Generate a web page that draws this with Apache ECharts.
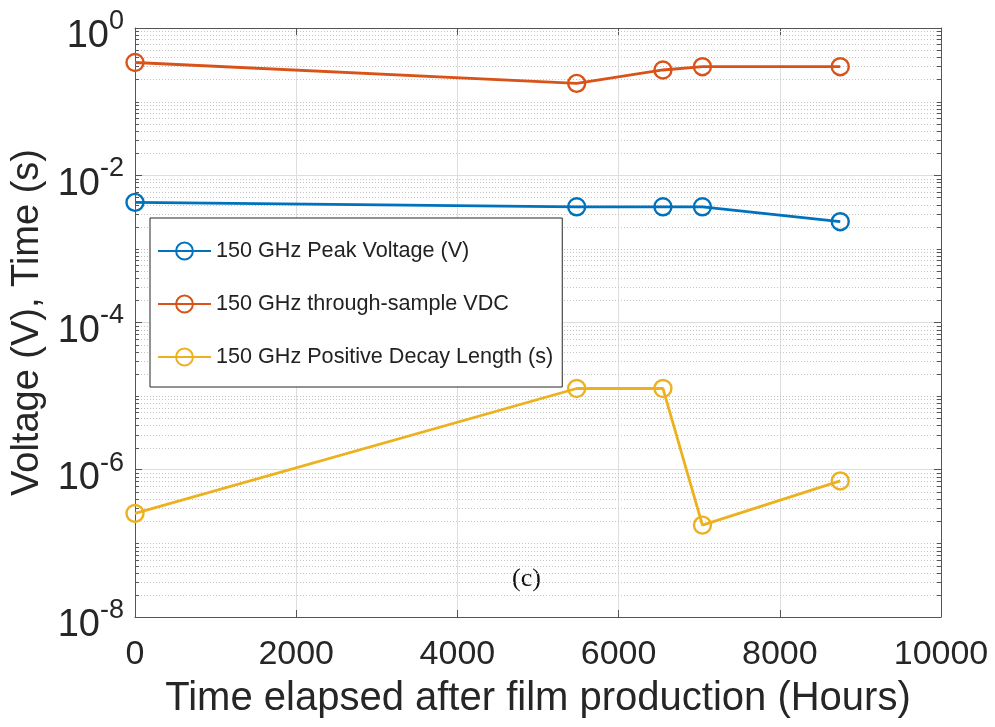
<!DOCTYPE html>
<html>
<head>
<meta charset="utf-8">
<script src="https://cdn.jsdelivr.net/npm/echarts@6/dist/echarts.min.js"></script>
<style>
html,body{margin:0;padding:0;background:#fff;}
#chart{width:995px;height:727px;}
</style>
</head>
<body>
<div id="chart"></div>
<script>
// ---- data ----
const hours = [0, 5480, 6550, 7040, 8750];
const peakVoltage = [0.00428, 0.00373, 0.00373, 0.00373, 0.00234];
const throughSampleVDC = [0.34, 0.177, 0.269, 0.298, 0.298];
const decayLength = [2.55e-7, 1.27e-5, 1.27e-5, 1.77e-7, 7.05e-7];
const seriesNames = ['150 GHz Peak Voltage (V)', '150 GHz through-sample VDC', '150 GHz Positive Decay Length (s)'];
const xTickValues = [0, 2000, 4000, 6000, 8000, 10000];
const yDecades = [-8, -7, -6, -5, -4, -3, -2, -1, 0];

// minor grid positions (2..9 x 10^k, plus odd decades)
const minorGrid = [];
for (let k = -8; k < 0; k++) {
  if (k % 2 !== 0) minorGrid.push(Math.pow(10, k));
  for (let m = 2; m <= 9; m++) minorGrid.push(m * Math.pow(10, k));
}

const colors = ['#0072BD', '#D95319', '#EDB120'];
const frame = '#555555';
const font = 'Liberation Sans, Arial, Helvetica, sans-serif';

function mkSeries(name, vals, color) {
  return {
    name: name,
    type: 'line',
    data: hours.map((h, i) => [h, vals[i]]),
    symbol: 'circle',
    symbolSize: 17,
    clip: false,
    z: 5,
    lineStyle: { color: color, width: 2.8 },
    itemStyle: { color: 'rgba(255,255,255,0)', borderColor: color, borderWidth: 2.4 },
    emphasis: { disabled: true }
  };
}

const chart = echarts.init(document.getElementById('chart'));
const option = {
  backgroundColor: '#ffffff',
  animation: false,
  grid: { left: 135, top: 28, width: 806, height: 589, containLabel: false, outerBoundsMode: 'none' },
  legend: {
    data: seriesNames,
    orient: 'vertical',
    left: 150,
    top: 218,
    padding: [22, 9, 19, 7],
    itemWidth: 53,
    itemHeight: 21,
    itemGap: 31,
    backgroundColor: '#ffffff',
    borderColor: '#262626',
    borderWidth: 1,
    textStyle: { fontFamily: font, fontSize: 21.6, color: '#222' },
    selectedMode: false
  },
  xAxis: [{
    type: 'value', min: 0, max: 10000, interval: 2000, position: 'bottom',
    axisLine: { show: true, onZero: false, lineStyle: { color: frame, width: 1 } },
    axisTick: { show: true, inside: true, length: 7, lineStyle: { color: frame } },
    axisLabel: { fontFamily: font, fontSize: 34, color: '#262626', margin: 21, formatter: function (v) { return String(v); } },
    splitLine: { show: true, lineStyle: { color: '#dedede', width: 1 } },
    name: 'Time elapsed after film production (Hours)',
    nameLocation: 'middle', nameGap: 62,
    nameTextStyle: { fontFamily: font, fontSize: 40, color: '#262626' }
  }, {
    type: 'value', min: 0, max: 10000, interval: 2000, position: 'top',
    axisLine: { show: true, onZero: false, lineStyle: { color: frame, width: 1 } },
    axisTick: { show: true, inside: true, length: 7, lineStyle: { color: frame } },
    axisLabel: { show: false }, splitLine: { show: false }
  }],
  yAxis: [{
    type: 'log', logBase: 10, min: 1e-8, max: 1, interval: 2, position: 'left',
    axisLine: { show: true, onZero: false, lineStyle: { color: frame, width: 1 } },
    axisTick: { show: true, inside: true, length: 7, lineStyle: { color: frame } },
    splitLine: { show: true, lineStyle: { color: '#dedede', width: 1 } },
    axisLabel: {
      margin: 11,
      verticalAlign: 'middle',
      padding: [18, 0, 0, 0],
      formatter: function (v) {
        const e = Math.round(Math.log10(v));
        return '{b|10}{e|' + e + '}';
      },
      rich: {
        b: { fontFamily: font, fontSize: 38, color: '#262626', lineHeight: 38, verticalAlign: 'bottom' },
        e: { fontFamily: font, fontSize: 27, color: '#262626', lineHeight: 27, verticalAlign: 'bottom', padding: [0, 0, 21, 0] }
      }
    },
    name: 'Voltage (V), Time (s)',
    nameLocation: 'middle', nameGap: 83,
    nameTextStyle: { fontFamily: font, fontSize: 38, color: '#262626' }
  }, {
    type: 'log', logBase: 10, min: 1e-8, max: 1, interval: 2, position: 'right',
    axisLine: { show: true, onZero: false, lineStyle: { color: frame, width: 1 } },
    axisTick: { show: true, inside: true, length: 7, lineStyle: { color: frame } },
    axisLabel: { show: false }, splitLine: { show: false }
  }],
  graphic: [{
    type: 'text', left: 512, top: 566,
    style: { text: '(c)', font: '26px "Liberation Serif", "Times New Roman", serif', fill: '#111' }
  }],
  series: [
    {
      name: 'minorGrid',
      type: 'custom',
      silent: true,
      z: 1,
      data: minorGrid.map(v => [0, v]),
      renderItem: function (params, api) {
        const v = api.value(1);
        const p = api.coord([0, v]);
        const x0 = params.coordSys.x, x1 = x0 + params.coordSys.width;
        const y = Math.round(p[1]) + 0.5;
        return {
          type: 'group',
          children: [
            { type: 'line', shape: { x1: x0, y1: y, x2: x1, y2: y }, style: { stroke: '#c4c4c4', lineWidth: 1, lineDash: [1, 2] } },
            { type: 'line', shape: { x1: x0, y1: y, x2: x0 + 4, y2: y }, style: { stroke: frame, lineWidth: 1 } },
            { type: 'line', shape: { x1: x1 - 4, y1: y, x2: x1, y2: y }, style: { stroke: frame, lineWidth: 1 } }
          ]
        };
      }
    },
    mkSeries(seriesNames[0], peakVoltage, colors[0]),
    mkSeries(seriesNames[1], throughSampleVDC, colors[1]),
    mkSeries(seriesNames[2], decayLength, colors[2])
  ]
};
chart.setOption(option);
</script>
</body>
</html>
